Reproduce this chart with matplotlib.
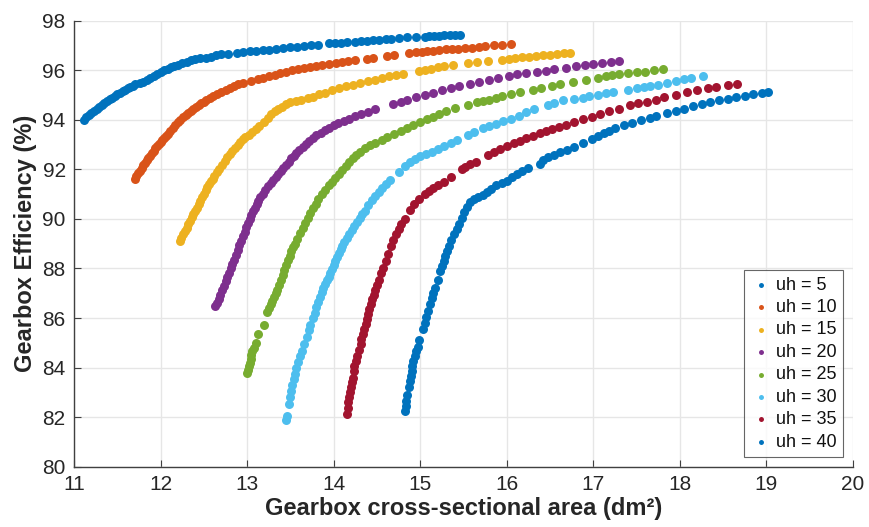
import matplotlib
matplotlib.use("Agg")
import matplotlib.pyplot as plt

plt.rcParams['font.family'] = ['Liberation Sans', 'DejaVu Sans']

labels = ["uh = 5", "uh = 10", "uh = 15", "uh = 20", "uh = 25", "uh = 30", "uh = 35", "uh = 40"]
colors = ["#0072BD", "#D95319", "#EDB120", "#7E2F8E", "#77AC30", "#4DBEEE", "#A2142F", "#0072BD"]

uh5_x = [11.11, 11.14, 11.17, 11.20, 11.23, 11.26, 11.29, 11.32, 11.35, 11.38, 11.41, 11.44, 11.47, 11.50,
         11.53, 11.56, 11.59, 11.62, 11.65, 11.68, 11.71, 11.76, 11.80, 11.84, 11.88, 11.92, 11.96, 12.00,
         12.04, 12.08, 12.12, 12.16, 12.20, 12.25, 12.30, 12.35, 12.40, 12.46, 12.52, 12.58, 12.64, 12.70,
         12.78, 12.88, 12.95, 13.03, 13.10, 13.18, 13.25, 13.33, 13.42, 13.50, 13.58, 13.66, 13.74, 13.82,
         13.95, 14.02, 14.08, 14.15, 14.25, 14.32, 14.38, 14.45, 14.52, 14.60, 14.66, 14.75, 14.85, 14.95,
         15.05, 15.10, 15.16, 15.22, 15.28, 15.34, 15.40, 15.46]
uh5_y = [94.00, 94.10, 94.19, 94.28, 94.36, 94.44, 94.52, 94.60, 94.68, 94.76, 94.83, 94.90, 94.97, 95.03,
         95.09, 95.15, 95.21, 95.27, 95.33, 95.38, 95.43, 95.50, 95.52, 95.62, 95.70, 95.78, 95.86, 95.94,
         96.00, 96.06, 96.12, 96.18, 96.23, 96.29, 96.34, 96.40, 96.44, 96.48, 96.51, 96.55, 96.60, 96.64,
         96.67, 96.70, 96.73, 96.76, 96.78, 96.80, 96.83, 96.86, 96.89, 96.92, 96.95, 96.98, 97.01, 97.02,
         97.09, 97.11, 97.12, 97.14, 97.16, 97.19, 97.20, 97.21, 97.24, 97.26, 97.28, 97.30, 97.33, 97.34,
         97.36, 97.38, 97.39, 97.40, 97.41, 97.42, 97.43, 97.44]

uh10_x = [11.70, 11.72, 11.74, 11.76, 11.78, 11.80, 11.82, 11.84, 11.86, 11.88, 11.90, 11.92, 11.94, 11.96,
          11.98, 12.00, 12.02, 12.04, 12.06, 12.08, 12.11, 12.14, 12.17, 12.20, 12.23, 12.26, 12.29, 12.32,
          12.35, 12.38, 12.41, 12.44, 12.47, 12.50, 12.53, 12.57, 12.61, 12.65, 12.70, 12.75, 12.80, 12.85,
          12.90, 12.95, 13.05, 13.12, 13.18, 13.25, 13.32, 13.38, 13.45, 13.52, 13.59, 13.66, 13.73, 13.80,
          13.87, 13.95, 14.03, 14.10, 14.17, 14.25, 14.38, 14.45, 14.62, 14.70, 14.87, 14.95, 15.02, 15.08,
          15.15, 15.22, 15.30, 15.37, 15.44, 15.52, 15.60, 15.68, 15.75, 15.85, 15.95, 16.05]
uh10_y = [91.62, 91.74, 91.85, 91.95, 92.06, 92.16, 92.26, 92.36, 92.46, 92.56, 92.66, 92.76, 92.86, 92.95,
          93.04, 93.12, 93.20, 93.28, 93.36, 93.44, 93.55, 93.66, 93.78, 93.90, 94.01, 94.10, 94.19, 94.28,
          94.37, 94.45, 94.52, 94.59, 94.66, 94.73, 94.80, 94.88, 94.96, 95.03, 95.12, 95.21, 95.29, 95.37,
          95.45, 95.50, 95.58, 95.63, 95.69, 95.75, 95.81, 95.87, 95.94, 96.00, 96.06, 96.11, 96.15, 96.19,
          96.23, 96.27, 96.31, 96.35, 96.39, 96.42, 96.46, 96.49, 96.57, 96.61, 96.68, 96.72, 96.75, 96.77,
          96.79, 96.81, 96.84, 96.86, 96.87, 96.89, 96.91, 96.93, 96.96, 97.00, 97.03, 97.05]

uh15_x = [12.22, 12.24, 12.26, 12.28, 12.30, 12.32, 12.34, 12.36, 12.38, 12.40, 12.42, 12.44, 12.46, 12.48,
          12.50, 12.52, 12.54, 12.56, 12.58, 12.60, 12.62, 12.65, 12.68, 12.71, 12.74, 12.77, 12.80, 12.83,
          12.86, 12.89, 12.92, 12.95, 12.98, 13.02, 13.06, 13.10, 13.14, 13.20, 13.24, 13.28, 13.32, 13.36,
          13.40, 13.45, 13.50, 13.56, 13.62, 13.70, 13.76, 13.83, 13.90, 13.98, 14.06, 14.14, 14.22, 14.30,
          14.40, 14.48, 14.56, 14.64, 14.72, 14.80, 14.98, 15.05, 15.12, 15.20, 15.28, 15.38, 15.55, 15.65,
          15.78, 15.95, 16.03, 16.10, 16.18, 16.26, 16.34, 16.42, 16.50, 16.58, 16.66, 16.73]
uh15_y = [89.12, 89.25, 89.38, 89.52, 89.65, 89.78, 89.92, 90.06, 90.20, 90.33, 90.46, 90.60, 90.74, 90.88,
          91.02, 91.16, 91.30, 91.42, 91.53, 91.63, 91.73, 91.88, 92.03, 92.18, 92.33, 92.48, 92.62, 92.75,
          92.88, 93.00, 93.11, 93.21, 93.30, 93.40, 93.52, 93.63, 93.75, 93.93, 94.08, 94.22, 94.34, 94.44,
          94.52, 94.62, 94.70, 94.77, 94.82, 94.89, 94.94, 95.03, 95.10, 95.19, 95.27, 95.35, 95.41, 95.47,
          95.56, 95.62, 95.69, 95.75, 95.80, 95.85, 95.98, 96.03, 96.07, 96.12, 96.17, 96.22, 96.31, 96.34,
          96.37, 96.43, 96.46, 96.48, 96.52, 96.55, 96.58, 96.61, 96.63, 96.66, 96.69, 96.71]

uh20_x = [12.63, 12.65, 12.67, 12.69, 12.71, 12.73, 12.75, 12.77, 12.79, 12.81, 12.83, 12.85, 12.87, 12.89,
          12.91, 12.93, 12.95, 12.97, 12.99, 13.01, 13.03, 13.05, 13.07, 13.09, 13.11, 13.13, 13.15, 13.18,
          13.21, 13.24, 13.27, 13.30, 13.33, 13.36, 13.39, 13.42, 13.45, 13.48, 13.51, 13.54, 13.57, 13.60,
          13.64, 13.68, 13.72, 13.76, 13.80, 13.85, 13.90, 13.95, 14.00, 14.05, 14.12, 14.18, 14.25, 14.32,
          14.40, 14.48, 14.68, 14.78, 14.85, 14.95, 15.05, 15.15, 15.25, 15.35, 15.45, 15.58, 15.68, 15.80,
          15.90, 16.02, 16.12, 16.22, 16.35, 16.45, 16.55, 16.68, 16.80, 16.90, 17.00, 17.10, 17.20, 17.30]
uh20_y = [86.48, 86.62, 86.78, 86.95, 87.12, 87.30, 87.48, 87.65, 87.83, 88.00, 88.18, 88.36, 88.55, 88.74,
          88.93, 89.12, 89.30, 89.48, 89.66, 89.83, 90.00, 90.16, 90.31, 90.46, 90.60, 90.74, 90.87, 91.02,
          91.17, 91.31, 91.44, 91.56, 91.68, 91.80, 91.92, 92.05, 92.18, 92.31, 92.44, 92.56, 92.67, 92.78,
          92.91, 93.04, 93.16, 93.27, 93.37, 93.48, 93.59, 93.69, 93.78, 93.86, 93.97, 94.05, 94.14, 94.23,
          94.32, 94.42, 94.62, 94.72, 94.80, 94.92, 95.02, 95.10, 95.20, 95.28, 95.36, 95.45, 95.52, 95.60,
          95.67, 95.77, 95.83, 95.88, 95.94, 95.99, 96.04, 96.10, 96.17, 96.21, 96.25, 96.30, 96.35, 96.39]

uh25_x = [13.00, 13.01, 13.02, 13.03, 13.04, 13.05, 13.06, 13.08, 13.10, 13.13, 13.19, 13.23, 13.25, 13.27,
          13.29, 13.31, 13.33, 13.35, 13.37, 13.39, 13.41, 13.43, 13.45, 13.47, 13.49, 13.51, 13.53, 13.55,
          13.58, 13.61, 13.64, 13.67, 13.70, 13.73, 13.76, 13.79, 13.82, 13.86, 13.90, 13.94, 13.98, 14.02,
          14.06, 14.10, 14.14, 14.18, 14.22, 14.26, 14.30, 14.36, 14.42, 14.48, 14.56, 14.62, 14.70, 14.78,
          14.85, 14.92, 15.00, 15.08, 15.15, 15.22, 15.30, 15.40, 15.55, 15.65, 15.72, 15.80, 15.88, 15.95,
          16.05, 16.15, 16.30, 16.40, 16.52, 16.62, 16.77, 16.92, 17.05, 17.15, 17.22, 17.30, 17.40, 17.50,
          17.60, 17.70, 17.81]
uh25_y = [83.77, 83.90, 84.05, 84.20, 84.35, 84.50, 84.65, 84.80, 85.00, 85.35, 85.72, 86.26, 86.40, 86.55,
          86.70, 86.85, 87.00, 87.15, 87.35, 87.55, 87.75, 87.95, 88.15, 88.35, 88.52, 88.70, 88.86, 89.00,
          89.20, 89.42, 89.63, 89.84, 90.05, 90.25, 90.45, 90.62, 90.80, 91.00, 91.18, 91.35, 91.50, 91.66,
          91.82, 91.97, 92.12, 92.28, 92.44, 92.58, 92.72, 92.86, 92.98, 93.08, 93.20, 93.30, 93.42, 93.55,
          93.65, 93.78, 93.90, 94.02, 94.12, 94.22, 94.35, 94.48, 94.60, 94.70, 94.75, 94.82, 94.88, 94.95,
          95.05, 95.12, 95.22, 95.28, 95.37, 95.44, 95.54, 95.61, 95.68, 95.75, 95.80, 95.84, 95.88, 95.93,
          95.95, 96.00, 96.05]

uh30_x = [13.45, 13.46, 13.48, 13.49, 13.51, 13.52, 13.54, 13.55, 13.57, 13.59, 13.61, 13.63, 13.66, 13.69,
          13.71, 13.73, 13.76, 13.78, 13.80, 13.82, 13.84, 13.86, 13.88, 13.90, 13.92, 13.94, 13.96, 13.98,
          14.00, 14.02, 14.04, 14.06, 14.08, 14.10, 14.12, 14.15, 14.18, 14.21, 14.24, 14.27, 14.30, 14.33,
          14.36, 14.40, 14.44, 14.48, 14.52, 14.56, 14.60, 14.65, 14.75, 14.82, 14.88, 14.94, 15.00, 15.07,
          15.13, 15.20, 15.28, 15.35, 15.42, 15.55, 15.62, 15.72, 15.80, 15.88, 15.96, 16.05, 16.14, 16.22,
          16.32, 16.48, 16.55, 16.65, 16.78, 16.88, 16.95, 17.05, 17.15, 17.23, 17.40, 17.50, 17.58, 17.65,
          17.75, 17.85, 17.95, 18.05, 18.13, 18.27]
uh30_y = [81.88, 82.05, 82.55, 82.80, 83.05, 83.30, 83.55, 83.75, 84.00, 84.22, 84.45, 84.65, 84.95, 85.25,
          85.50, 85.72, 86.00, 86.22, 86.45, 86.66, 86.86, 87.05, 87.22, 87.38, 87.53, 87.67, 87.80, 87.98,
          88.15, 88.32, 88.48, 88.64, 88.78, 88.92, 89.05, 89.22, 89.38, 89.54, 89.70, 89.86, 90.02, 90.18,
          90.34, 90.55, 90.75, 90.93, 91.10, 91.26, 91.40, 91.57, 91.90, 92.12, 92.28, 92.40, 92.52, 92.62,
          92.72, 92.82, 92.95, 93.06, 93.18, 93.40, 93.50, 93.66, 93.74, 93.85, 93.95, 94.05, 94.17, 94.30,
          94.44, 94.60, 94.68, 94.78, 94.84, 94.90, 94.95, 95.00, 95.08, 95.12, 95.22, 95.28, 95.32, 95.35,
          95.42, 95.50, 95.58, 95.63, 95.68, 95.77]

uh35_x = [14.15, 14.16, 14.17, 14.18, 14.19, 14.20, 14.21, 14.22, 14.23, 14.24, 14.26, 14.27, 14.29, 14.31,
          14.32, 14.34, 14.35, 14.37, 14.38, 14.40, 14.41, 14.43, 14.44, 14.46, 14.48, 14.50, 14.52, 14.55,
          14.57, 14.60, 14.63, 14.66, 14.69, 14.72, 14.75, 14.78, 14.82, 14.88, 14.93, 14.98, 15.05, 15.10,
          15.15, 15.20, 15.27, 15.35, 15.48, 15.52, 15.58, 15.64, 15.78, 15.85, 15.92, 16.00, 16.08, 16.15,
          16.22, 16.30, 16.38, 16.45, 16.52, 16.60, 16.68, 16.78, 16.88, 16.98, 17.08, 17.18, 17.30, 17.42,
          17.52, 17.62, 17.72, 17.82, 17.95, 18.08, 18.20, 18.32, 18.42, 18.55, 18.66]
uh35_y = [82.12, 82.35, 82.60, 82.80, 83.00, 83.20, 83.40, 83.60, 83.85, 84.05, 84.25, 84.45, 84.70, 84.95,
          85.15, 85.35, 85.55, 85.75, 85.95, 86.15, 86.35, 86.55, 86.75, 86.95, 87.15, 87.35, 87.55, 87.80,
          88.00, 88.30, 88.60, 88.90, 89.15, 89.38, 89.60, 89.78, 90.00, 90.35, 90.62, 90.82, 91.00, 91.12,
          91.25, 91.37, 91.50, 91.70, 92.00, 92.10, 92.20, 92.30, 92.60, 92.72, 92.82, 92.95, 93.05, 93.14,
          93.25, 93.36, 93.48, 93.55, 93.63, 93.72, 93.80, 93.92, 94.02, 94.12, 94.22, 94.35, 94.45, 94.58,
          94.66, 94.72, 94.82, 94.92, 95.02, 95.12, 95.22, 95.28, 95.32, 95.40, 95.45]

uh40_x = [14.82, 14.83, 14.84, 14.85, 14.87, 14.88, 14.89, 14.90, 14.91, 14.92, 14.94, 14.95, 14.97, 14.99,
          15.03, 15.05, 15.07, 15.09, 15.11, 15.13, 15.15, 15.17, 15.20, 15.23, 15.25, 15.27, 15.29, 15.31,
          15.33, 15.36, 15.39, 15.42, 15.45, 15.48, 15.51, 15.54, 15.57, 15.62, 15.67, 15.72, 15.77, 15.82,
          15.88, 15.94, 16.00, 16.06, 16.12, 16.18, 16.24, 16.38, 16.42, 16.48, 16.55, 16.62, 16.70, 16.78,
          16.88, 16.98, 17.05, 17.12, 17.18, 17.25, 17.35, 17.45, 17.55, 17.65, 17.72, 17.85, 17.95, 18.05,
          18.15, 18.25, 18.35, 18.45, 18.55, 18.65, 18.75, 18.85, 18.95, 19.02]
uh40_y = [82.25, 82.45, 82.65, 82.90, 83.20, 83.45, 83.65, 83.85, 84.05, 84.25, 84.45, 84.65, 84.85, 85.10,
          85.55, 85.80, 86.05, 86.30, 86.55, 86.80, 87.00, 87.20, 87.55, 87.90, 88.10, 88.30, 88.50, 88.70,
          88.90, 89.15, 89.38, 89.60, 89.80, 90.05, 90.28, 90.50, 90.68, 90.80, 90.88, 90.98, 91.10, 91.22,
          91.35, 91.45, 91.55, 91.68, 91.80, 91.93, 92.05, 92.22, 92.38, 92.50, 92.60, 92.70, 92.80, 92.90,
          93.05, 93.22, 93.35, 93.48, 93.56, 93.66, 93.78, 93.88, 93.98, 94.08, 94.15, 94.28, 94.35, 94.45,
          94.55, 94.62, 94.70, 94.78, 94.85, 94.92, 94.98, 95.05, 95.10, 95.13]

series_x = [uh5_x, uh10_x, uh15_x, uh20_x, uh25_x, uh30_x, uh35_x, uh40_x]
series_y = [uh5_y, uh10_y, uh15_y, uh20_y, uh25_y, uh30_y, uh35_y, uh40_y]

x_ticks = [11, 12, 13, 14, 15, 16, 17, 18, 19, 20]
y_ticks = [80, 82, 84, 86, 88, 90, 92, 94, 96, 98]

fig = plt.figure(figsize=(8.69, 5.27), dpi=100)
ax = fig.add_axes([0.0852, 0.1144, 0.8964, 0.8463])

for xs, ys, c, lab in zip(series_x, series_y, colors, labels):
    ax.scatter(xs, ys, s=42, color=c, linewidths=0, label=lab, zorder=3)

ax.set_xlim(11, 20)
ax.set_ylim(80, 98)
ax.set_xticks(x_ticks)
ax.set_yticks(y_ticks)
ax.grid(True, color="#e6e6e6", linewidth=1.0, zorder=0)
ax.set_axisbelow(True)

for s in ["top", "right"]:
    ax.spines[s].set_visible(False)
for s in ["left", "bottom"]:
    ax.spines[s].set_color("#404040")
    ax.spines[s].set_linewidth(1.0)

ax.tick_params(axis="both", direction="in", length=5, width=0.8, color="#404040",
               labelsize=15, labelcolor="#262626", pad=6)

ax.set_xlabel("Gearbox cross-sectional area (dm²)", fontsize=17, fontweight="bold",
              color="#262626", labelpad=2)
ax.set_ylabel("Gearbox Efficiency (%)", fontsize=17, fontweight="bold",
              color="#262626", labelpad=4)

leg = ax.legend(loc="lower right", bbox_to_anchor=(0.987, 0.022), fontsize=13,
                markerscale=0.55, frameon=True, fancybox=False, borderpad=0.35,
                labelspacing=0.3, handletextpad=0.2, handlelength=1.2, borderaxespad=0)
leg.get_frame().set_edgecolor("#404040")
leg.get_frame().set_linewidth(0.8)
for t in leg.get_texts():
    t.set_color("#111111")

fig.savefig("out.png", dpi=100)
